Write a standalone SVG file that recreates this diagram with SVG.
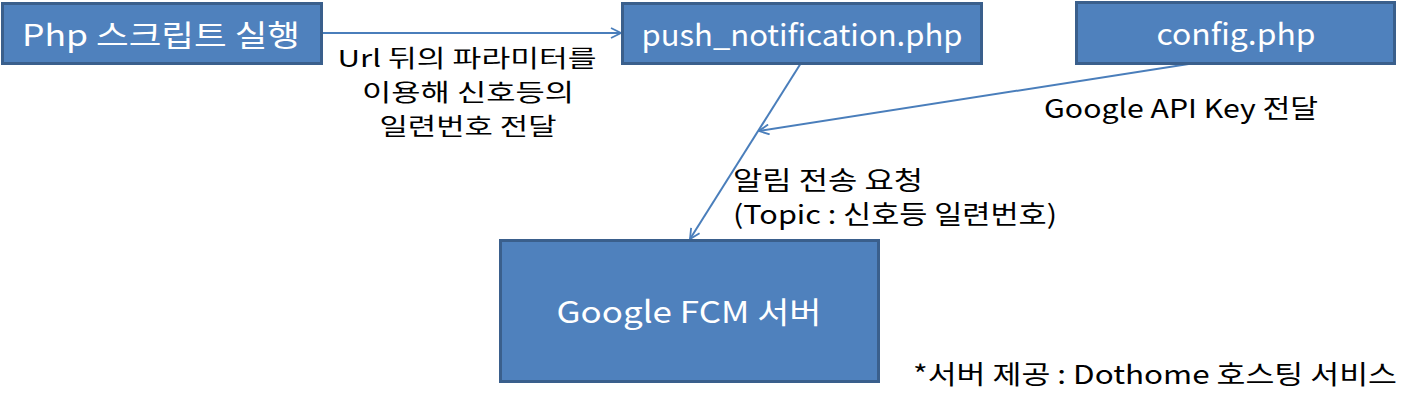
<svg xmlns="http://www.w3.org/2000/svg" width="1417" height="409" viewBox="0 0 1417 409">
<style>
.box{fill:#4F81BD;stroke:#3A5F8C;stroke-width:3}
.bt{fill:#fff;font-family:"Noto Sans CJK KR","Noto Sans",sans-serif;font-size:30px;text-anchor:middle;dominant-baseline:central}
.lt{fill:#000;font-family:"Noto Sans CJK KR","Noto Sans",sans-serif;font-size:26px;dominant-baseline:central}
.ls{font-size:23.4px}
.ln{stroke:#4A7EBB;stroke-width:2;fill:none}
</style>
<defs>
<marker id="ah" viewBox="0 0 12 12" refX="11" refY="6" markerWidth="12" markerHeight="12" markerUnits="userSpaceOnUse" orient="auto">
<path d="M1,1 L11,6 L1,11" fill="none" stroke="#4A7EBB" stroke-width="1.8"/>
</marker>
</defs>
<g id="connectors">
<line class="ln" x1="321" y1="33" x2="621" y2="33" marker-end="url(#ah)"/>
<line class="ln" x1="801" y1="63" x2="690" y2="239" marker-end="url(#ah)"/>
<line class="ln" x1="1195" y1="63" x2="759" y2="131" marker-end="url(#ah)"/>
</g>
<g id="php">
<rect class="box" x="2.5" y="3.5" width="319" height="60"/>
<text class="bt" x="161" y="33" textLength="278" lengthAdjust="spacingAndGlyphs">Php 스크립트 실행</text>
</g>
<g id="push">
<rect class="box" x="622.5" y="3.5" width="359" height="60"/>
<text class="bt" x="802" y="33" textLength="321" lengthAdjust="spacingAndGlyphs">push_notification.php</text>
</g>
<g id="config">
<rect class="box" x="1076.5" y="2.5" width="318" height="61"/>
<text class="bt" x="1236" y="32" textLength="159" lengthAdjust="spacingAndGlyphs">config.php</text>
</g>
<g id="fcm">
<rect class="box" x="500.5" y="240.5" width="378" height="141"/>
<text class="bt" x="689" y="310" textLength="265" lengthAdjust="spacingAndGlyphs">Google FCM 서버</text>
</g>
<g id="labels">
<text class="lt ls" text-anchor="middle" x="467" y="57" textLength="259" lengthAdjust="spacingAndGlyphs">Url 뒤의 파라미터를</text>
<text class="lt ls" text-anchor="middle" x="468" y="91" textLength="212" lengthAdjust="spacingAndGlyphs">이용해 신호등의</text>
<text class="lt ls" text-anchor="middle" x="468" y="125" textLength="177" lengthAdjust="spacingAndGlyphs">일련번호 전달</text>
<text class="lt" x="1044" y="106" textLength="274" lengthAdjust="spacingAndGlyphs">Google API Key 전달</text>
<text class="lt"><tspan x="733" y="178" textLength="190" lengthAdjust="spacingAndGlyphs">알림 전송 요청</tspan><tspan x="733" y="212" textLength="324" lengthAdjust="spacingAndGlyphs">(Topic : 신호등 일련번호)</tspan></text>
<text class="lt" x="913" y="372" textLength="484" lengthAdjust="spacingAndGlyphs">*서버 제공 : Dothome 호스팅 서비스</text>
</g>
</svg>
